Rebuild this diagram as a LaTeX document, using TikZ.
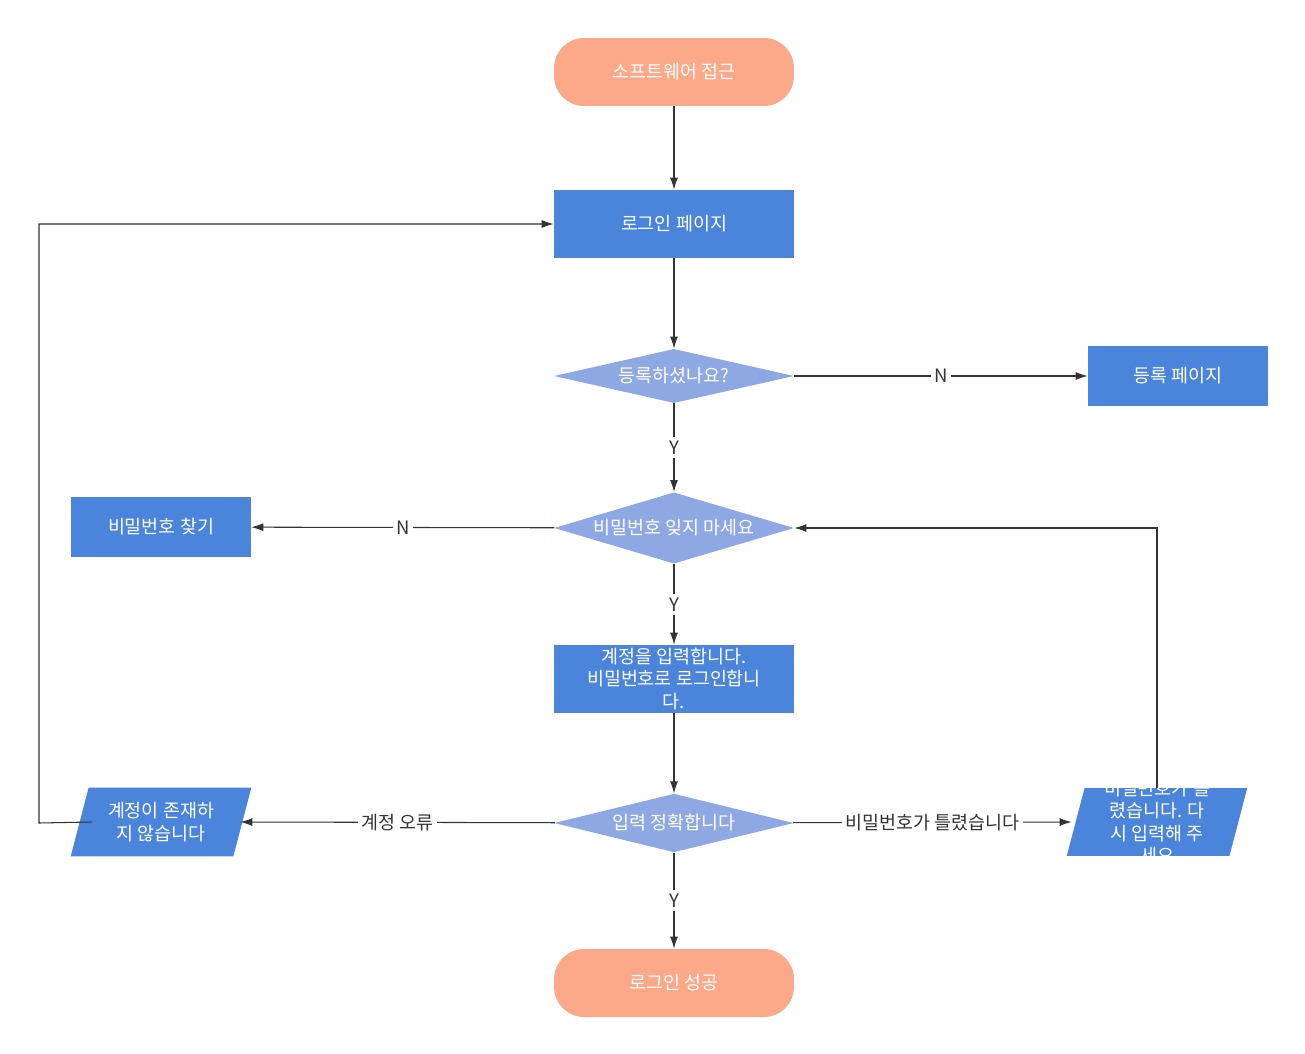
\documentclass[tikz,border=0pt]{standalone}
\usepackage{fontspec}
\setmainfont{Noto Sans CJK KR}
\usetikzlibrary{shapes.geometric,arrows.meta,positioning,calc}
\definecolor{salmon}{HTML}{FCA98A}
\definecolor{boxblue}{HTML}{4A84DB}
\definecolor{diablue}{HTML}{8DA8E2}
\definecolor{linegray}{HTML}{333333}

\begin{document}
\begin{tikzpicture}[x=0.02cm,y=-0.02cm,
    every node/.style={font=\fontsize{10.5}{12.8}\selectfont, text=white, align=center, inner sep=0},
    terminal/.style={rectangle, rounded corners=0.6cm, fill=salmon, minimum width=4.8cm, minimum height=1.36cm},
    process/.style={rectangle, fill=boxblue, minimum width=4.8cm, minimum height=1.36cm},
    smallbox/.style={rectangle, fill=boxblue, minimum width=3.6cm, minimum height=1.2cm},
    decision/.style={diamond, fill=diablue, aspect=2.95, minimum width=4.8cm},
    iobox/.style={rectangle, minimum width=3.24cm, minimum height=1.36cm},
    arrow/.style={-{Latex[length=2.4mm,width=1.6mm]}, linegray, semithick},
    label/.style={fill=white, text=linegray, inner sep=2pt}
]
    \useasboundingbox (0,0) rectangle (1305,1054);

    % Main flow
    \node[terminal] (start) at (674,72) {소프트웨어 접근};
    \node[process] (login) at (674,224) {로그인 페이지};
    \node[decision] (registered) at (674,376) {등록하셨나요?};
    \node[smallbox] (register) at (1178,376) {등록 페이지};
    \node[decision] (forgot) at (674,528) {비밀번호 잊지 마세요};
    \node[smallbox] (findpw) at (161,527) {비밀번호 찾기};
    \node[process] (enter) at (674,679) {계정을 입력합니다.\\비밀번호로 로그인합니\\다.};
    \node[decision] (correct) at (674,823) {입력 정확합니다};
    \node[terminal] (success) at (674,983) {로그인 성공};

    % Input/output boxes
    \node[iobox] (noacct) at (161,822) {};
    \fill[boxblue] ($(noacct.south west)+(-9,0)$) -- ($(noacct.north west)+(9,0)$)
        -- ($(noacct.north east)+(9,0)$) -- ($(noacct.south east)+(-9,0)$) -- cycle;
    \node at (noacct) {계정이 존재하\\지 않습니다};

    \node[iobox] (wrongpw) at (1157,822) {};
    \begin{scope}
        \path[clip] ($(wrongpw.south west)+(-9,0)$) -- ($(wrongpw.north west)+(9,0)$)
            -- ($(wrongpw.north east)+(9,0)$) -- ($(wrongpw.south east)+(-9,0)$) -- cycle;
        \fill[boxblue] (wrongpw.south west) ++(-20,0) rectangle ($(wrongpw.north east)+(20,0)$);
        \node at (wrongpw) {비밀번호가 틀\\렸습니다. 다\\시 입력해 주\\세요};
    \end{scope}

    % Connectors
    \draw[arrow] (start) -- (login);
    \draw[arrow] (login) -- (registered);
    \draw[arrow] (registered) -- node[label] {N} (register);
    \draw[arrow] (registered) -- node[label] {Y} (forgot);
    \draw[arrow] (forgot) -- node[label] {N} (findpw);
    \draw[arrow] (forgot) -- node[label] {Y} (enter);
    \draw[arrow] (enter) -- (correct);
    \draw[arrow] (correct) -- node[label] {Y} (success);
    \draw[arrow] (correct) -- node[label] {계정 오류} ($(noacct.east)+(-2,0)$);
    \draw[arrow] (correct) -- node[label] {비밀번호가 틀렸습니다} ($(wrongpw.west)+(-4,0)$);
    \draw[arrow] ($(noacct.west)+(12,0)$) -- (39,823) |- (login.west);
    \draw[arrow] (wrongpw.north) -- (wrongpw.north |- forgot.east) -- (forgot.east);
\end{tikzpicture}
\end{document}
